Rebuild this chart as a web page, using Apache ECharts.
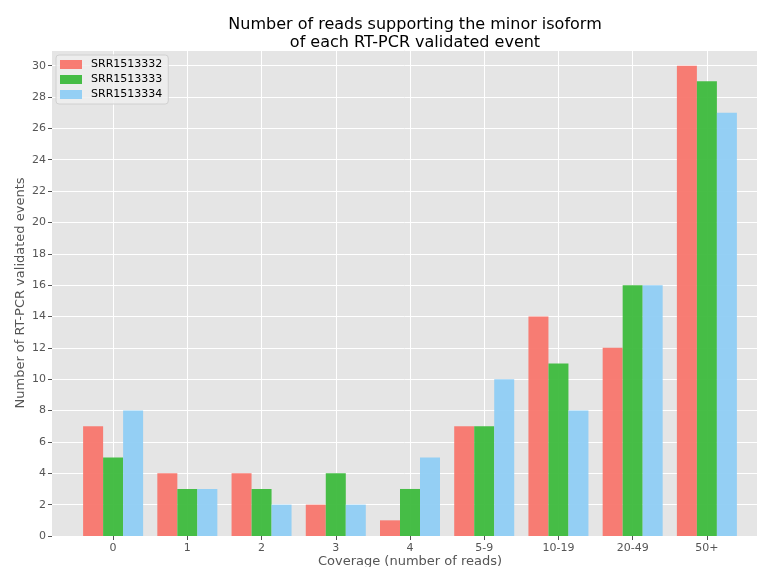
<!DOCTYPE html>
<html>
<head>
<meta charset="utf-8">
<script src="https://cdn.jsdelivr.net/npm/echarts@6/dist/echarts.min.js"></script>
<style>html,body{margin:0;padding:0;background:#fff}#c{width:757px;height:567px}</style>
</head>
<body>
<div id="c"></div>
<script>
const categories = ['0', '1', '2', '3', '4', '5-9', '10-19', '20-49', '50+'];
const seriesNames = ['SRR1513332', 'SRR1513333', 'SRR1513334'];
const srr1513332 = [7, 4, 4, 2, 1, 7, 14, 12, 30];
const srr1513333 = [5, 3, 3, 4, 3, 7, 11, 16, 29];
const srr1513334 = [8, 3, 2, 2, 5, 10, 8, 16, 27];
const colors = ['#F8766D', '#3DBB3D', '#8FCEF4'];

const FONT = 'DejaVu Sans';
const chart = echarts.init(document.getElementById('c'), null, {renderer: 'canvas'});
const values = [srr1513332, srr1513333, srr1513334];

chart.setOption({
  animation: false,
  textStyle: {fontFamily: FONT},
  title: {
    text: 'Number of reads supporting the minor isoform\nof each RT-PCR validated event',
    left: 410, top: 11, textAlign: 'center',
    textStyle: {fontFamily: FONT, fontSize: 16, fontWeight: 'normal', color: '#000', lineHeight: 18}
  },
  legend: {
    orient: 'vertical', left: 56, top: 55,
    itemWidth: 22, itemHeight: 9, itemGap: 4,
    padding: [4, 6, 4, 4],
    backgroundColor: 'rgba(238,238,238,0.85)',
    borderColor: '#d0d0d0', borderWidth: 1, borderRadius: 3,
    icon: 'rect',
    textStyle: {fontFamily: FONT, fontSize: 11, color: '#000', padding: [0, 0, 0, 4]},
    data: seriesNames
  },
  grid: [
    {left: 52, right: 0, top: 50, bottom: 31, show: true, backgroundColor: '#E5E5E5', borderWidth: 0, outerBoundsMode: 'none', containLabel: false},
    {left: 76, right: 13, top: 50, bottom: 31, outerBoundsMode: 'none', containLabel: false}
  ],
  xAxis: [
    {type: 'value', gridIndex: 0, min: 0, max: 1, show: false},
    {
      type: 'category', gridIndex: 1, data: categories,
      axisLine: {show: false},
      axisTick: {show: true, alignWithLabel: true, length: 4, lineStyle: {color: '#555'}},
      axisLabel: {fontFamily: FONT, fontSize: 11, color: '#555', margin: 7},
      splitLine: {show: true, alignWithLabel: true, lineStyle: {color: '#fff', width: 1}},
      name: 'Coverage (number of reads)', nameLocation: 'middle', nameGap: 19,
      nameMoveOverlap: false,
      nameTextStyle: {fontFamily: FONT, fontSize: 13, color: '#555'}
    }
  ],
  yAxis: [
    {
      type: 'value', gridIndex: 0, min: 0, max: 31, interval: 2,
      axisLine: {show: false},
      axisTick: {show: true, length: 4, lineStyle: {color: '#555'}},
      axisLabel: {fontFamily: FONT, fontSize: 11, color: '#555', margin: 6,
        showMaxLabel: false},
      splitLine: {show: true, lineStyle: {color: '#fff', width: 1}},
      name: 'Number of RT-PCR validated events', nameLocation: 'middle', nameGap: 25,
      nameMoveOverlap: false,
      nameTextStyle: {fontFamily: FONT, fontSize: 13, color: '#555'}
    },
    {type: 'value', gridIndex: 1, min: 0, max: 31, show: false}
  ],
  series: seriesNames.map((n, i) => ({
    name: n, type: 'bar', xAxisIndex: 1, yAxisIndex: 1,
    data: values[i], barWidth: 20, barGap: '0%',
    itemStyle: {color: colors[i], opacity: 0.95}
  })),
  color: colors
});
</script>
</body>
</html>
